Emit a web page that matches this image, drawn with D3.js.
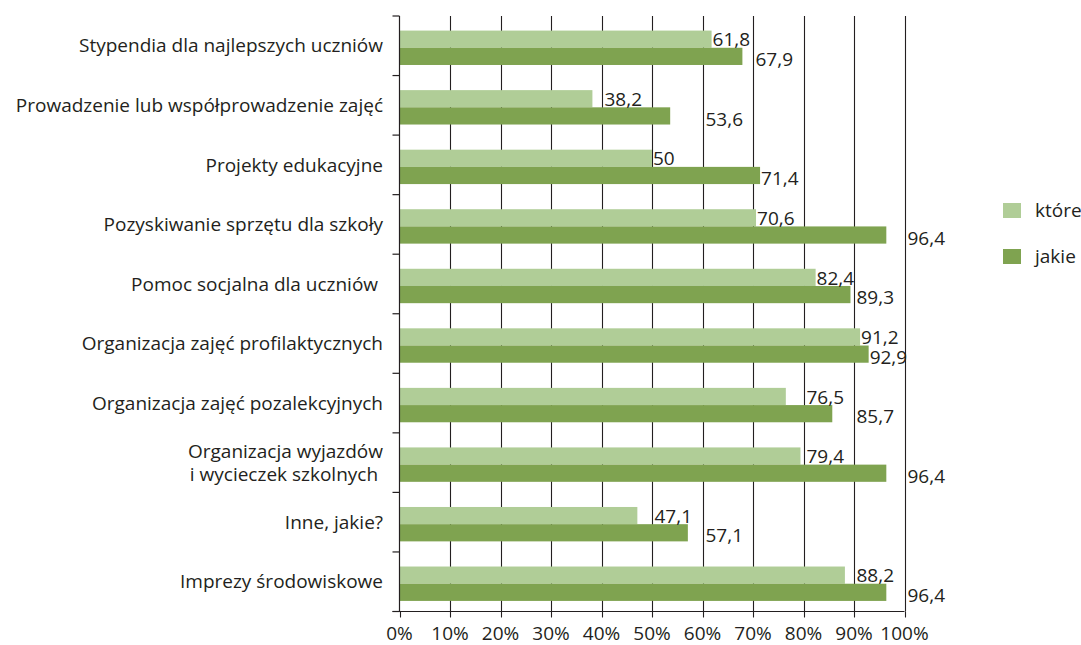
<!DOCTYPE html>
<html>
<head>
<meta charset="utf-8">
<script src="https://cdn.jsdelivr.net/npm/d3@7"></script>
<style>
  html, body { margin: 0; padding: 0; background: #fff; }
  svg text { font-family: "Open Sans", "Noto Sans", sans-serif; fill: #231f20; white-space: pre; }
</style>
</head>
<body>
<svg id="chart" width="1081" height="645"></svg>
<script>
const categories = [
  "Stypendia dla najlepszych uczniów",
  "Prowadzenie lub współprowadzenie zajęć",
  "Projekty edukacyjne",
  "Pozyskiwanie sprzętu dla szkoły",
  "Pomoc socjalna dla uczniów ",
  "Organizacja zajęć profilaktycznych",
  "Organizacja zajęć pozalekcyjnych",
  "Organizacja wyjazdów\ni wycieczek szkolnych ",
  "Inne, jakie?",
  "Imprezy środowiskowe"
];
const seriesNames = ["które", "jakie"];
const ktore = [61.8, 38.2, 50, 70.6, 82.4, 91.2, 76.5, 79.4, 47.1, 88.2];
const jakie = [67.9, 53.6, 71.4, 96.4, 89.3, 92.9, 85.7, 96.4, 57.1, 96.4];
const xTicks = [0, 10, 20, 30, 40, 50, 60, 70, 80, 90, 100];
const colors = ["#b0cd97", "#7fa350"];

const svg = d3.select("#chart");
const pLeft = 399.5, pRight = 904.5, pTop = 16, pBottom = 611.5;
const fontSize = 19;

const x = d3.scaleLinear().domain([0, 100]).range([pLeft, pRight]);
const y = d3.scaleBand().domain(d3.range(categories.length)).range([pTop, pBottom]).paddingInner(0).paddingOuter(0);
const barH = 17.2;

// gridlines
svg.append("g").selectAll("line").data(xTicks.slice(1)).join("line")
  .attr("x1", d => Math.round(x(d)) + 0.5).attr("x2", d => Math.round(x(d)) + 0.5)
  .attr("y1", pTop).attr("y2", pBottom)
  .attr("stroke", "#231f20").attr("stroke-width", 1.1);

// bars
const series = [ktore, jakie];
const gBars = svg.append("g");
series.forEach((vals, si) => {
  gBars.selectAll(null).data(vals).join("rect")
    .attr("x", x(0))
    .attr("y", (d, i) => y(i) + y.bandwidth() / 2 + 2 - barH + si * barH)
    .attr("width", d => x(d) - x(0))
    .attr("height", barH)
    .attr("fill", colors[si]);
});

// y axis
const yAxisG = svg.append("g");
yAxisG.append("line").attr("x1", pLeft).attr("x2", pLeft).attr("y1", pTop).attr("y2", pBottom)
  .attr("stroke", "#231f20").attr("stroke-width", 1.2);
yAxisG.selectAll(null).data(d3.range(categories.length + 1)).join("line")
  .attr("x1", pLeft - 7).attr("x2", pLeft)
  .attr("y1", d => d < categories.length ? y(d) : pBottom)
  .attr("y2", d => d < categories.length ? y(d) : pBottom)
  .attr("stroke", "#231f20").attr("stroke-width", 1.2);

// category labels
categories.forEach((c, i) => {
  const lines = c.split("\n");
  const cy = y(i) + y.bandwidth() / 2;
  const lh = 23.5;
  lines.forEach((ln, j) => {
    svg.append("text")
      .attr("x", 383)
      .attr("y", cy + (j - (lines.length - 1) / 2) * lh)
      .attr("dy", "0.35em")
      .attr("text-anchor", "end")
      .attr("font-size", fontSize)
      .text(ln);
  });
});

// x axis
const xAxisG = svg.append("g");
xAxisG.append("line").attr("x1", pLeft - 7).attr("x2", pRight).attr("y1", pBottom).attr("y2", pBottom)
  .attr("stroke", "#231f20").attr("stroke-width", 1.2);
xAxisG.selectAll(null).data(xTicks).join("line")
  .attr("x1", d => Math.round(x(d)) + 0.5).attr("x2", d => Math.round(x(d)) + 0.5)
  .attr("y1", pBottom).attr("y2", pBottom + 6)
  .attr("stroke", "#231f20").attr("stroke-width", 1.1);
xAxisG.selectAll(null).data(xTicks).join("text")
  .attr("x", d => x(d)).attr("y", 633).attr("dy", "0.35em")
  .attr("text-anchor", "middle").attr("font-size", fontSize)
  .text(d => d + "%");

// value labels: placed after bar end, shifted past a gridline if they would cross it
const fmt = v => String(v).replace(".", ",");
series.forEach((vals, si) => {
  vals.forEach((v, i) => {
    const t = svg.append("text")
      .attr("font-size", fontSize)
      .attr("y", y(i) + y.bandwidth() / 2 + 2 - barH / 2 + si * barH + (si === 1 ? 3 : 0.5))
      .attr("dy", "0.35em")
      .text(fmt(v));
    const w = t.node().getComputedTextLength();
    let lx = x(v) + 1;
    for (const g of xTicks.slice(1)) {
      const gx = Math.round(x(g)) + 0.5;
      if (gx > lx - 0.5 && gx < lx + w - 4) { lx = gx + 2; }
    }
    t.attr("x", lx);
  });
});

// legend
const legend = svg.append("g");
seriesNames.forEach((n, i) => {
  legend.append("rect").attr("x", 1003).attr("y", 203 + i * 46).attr("width", 18).attr("height", 15)
    .attr("fill", colors[i]);
  legend.append("text").attr("x", 1035).attr("y", 210.5 + i * 46).attr("dy", "0.35em")
    .attr("font-size", fontSize).text(n);
});
</script>
</body>
</html>
